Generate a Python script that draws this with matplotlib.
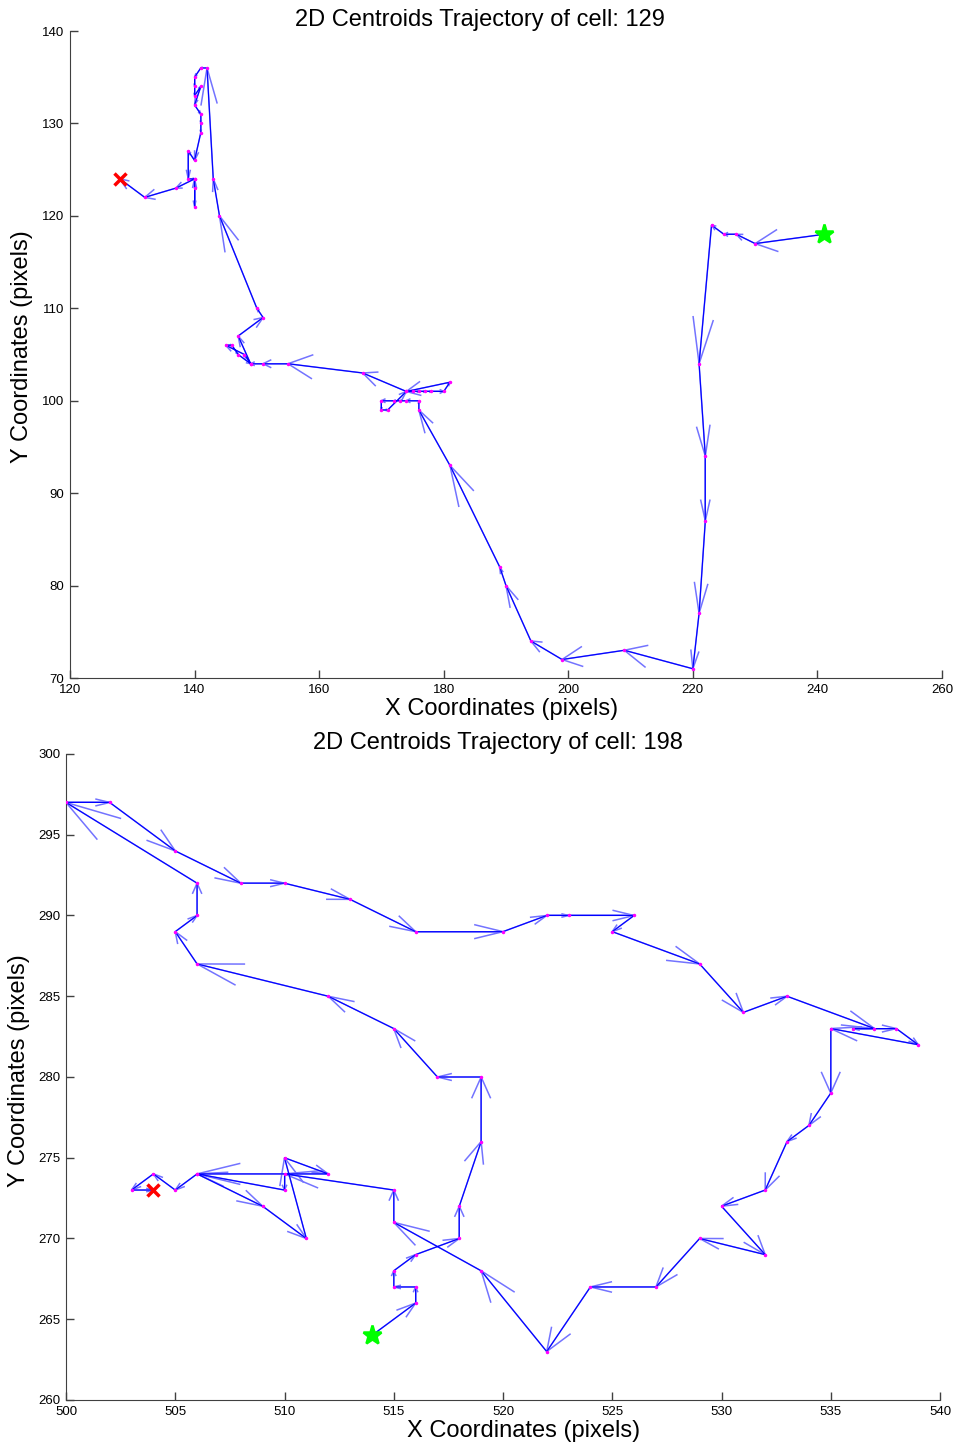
import matplotlib
matplotlib.use("Agg")
import matplotlib.pyplot as plt
import numpy as np
from matplotlib.collections import LineCollection

plt.rcParams['font.family'] = ['Liberation Sans', 'DejaVu Sans']

# ---- cell 129 trajectory (start -> end) ----
cell1_x = [241, 230, 227, 225, 223, 221, 222, 222, 221, 220, 209, 199, 194, 190, 189, 181, 176,
           176, 174, 173, 172, 170, 170, 171, 174, 175, 176, 177, 178, 180, 181, 174, 167, 155,
           151, 149, 148, 145, 146, 147, 149, 147, 151, 150, 144, 143, 142, 141, 140, 140, 140,
           141, 140, 141, 141, 141, 140, 139, 139, 140, 140, 140, 140, 137, 132, 128]
cell1_y = [118, 117, 118, 118, 119, 104, 94, 87, 77, 71, 73, 72, 74, 80, 82, 93, 99,
           100, 100, 100, 100, 100, 99, 99, 101, 101, 101, 101, 101, 101, 102, 101, 103, 104,
           104, 104, 105, 106, 106, 105, 104, 107, 109, 110, 120, 124, 136, 136, 135, 134, 133,
           134, 132, 131, 130, 129, 126, 127, 124, 124, 123, 121, 124, 123, 122, 124]

# ---- cell 198 trajectory (start -> end) ----
cell2_x = [514, 516, 516, 515, 515, 516, 518, 518, 519, 519, 517, 515, 512, 506, 505, 506, 506,
           500, 502, 505, 508, 510, 513, 516, 520, 522, 523, 526, 525, 529, 531, 533, 537, 536,
           538, 539, 535, 535, 534, 533, 532, 530, 532, 529, 527, 524, 522, 519, 515, 515, 510,
           510, 506, 509, 511, 510, 512, 506, 505, 504, 503, 504]
cell2_y = [264, 266, 267, 267, 268, 269, 270, 272, 276, 280, 280, 283, 285, 287, 289, 290, 292,
           297, 297, 294, 292, 292, 291, 289, 289, 290, 290, 290, 289, 287, 284, 285, 283, 283,
           283, 282, 283, 279, 277, 276, 273, 272, 269, 270, 267, 267, 263, 268, 271, 273, 274,
           273, 274, 272, 270, 275, 274, 274, 273, 274, 273, 273]

titles = ["2D Centroids Trajectory of cell: 129", "2D Centroids Trajectory of cell: 198"]
xlims = [(120, 260), (500, 540)]
ylims = [(70, 140), (260, 300)]
xticks = [np.arange(120, 261, 20), np.arange(500, 541, 5)]
yticks = [np.arange(70, 141, 10), np.arange(260, 301, 5)]

fig = plt.figure(figsize=(9.58, 14.47), dpi=100)
ax1 = fig.add_axes([70/958, 1-678/1447, (942-70)/958, (678-31)/1447])
ax2 = fig.add_axes([66/958, 1-1400/1447, (940-66)/958, (1400-754)/1447])


def draw(ax, xs, ys, title, xl, yl, xt, yt, title_pos, xlab_pos, ylab_pos):
    xs = np.asarray(xs, float)
    ys = np.asarray(ys, float)
    u = np.diff(xs)
    v = np.diff(ys)
    x0 = xs[:-1]
    y0 = ys[:-1]
    tx = x0 + u
    ty = y0 + v
    a, b = 0.33, 0.33
    h1x = tx - a * (u + b * v)
    h1y = ty - a * (v - b * u)
    h2x = tx - a * (u - b * v)
    h2y = ty - a * (v + b * u)
    segs = []
    for i in range(len(u)):
        segs.append([(x0[i], y0[i]), (tx[i], ty[i])])
        segs.append([(h1x[i], h1y[i]), (tx[i], ty[i])])
        segs.append([(h2x[i], h2y[i]), (tx[i], ty[i])])
    lc = LineCollection(segs, colors=[(0.45, 0.45, 1.0)], linewidths=1.1, zorder=2)
    ax.add_collection(lc)
    ax.plot(xs, ys, '-', color=(0, 0, 1), lw=0.8, zorder=3)
    ax.plot(xs, ys, '.', color=(1, 0, 1), ms=3, zorder=4)
    ax.plot(xs[0], ys[0], marker='*', color=(0, 1, 0), ms=14, mew=1.8, zorder=5, ls='none')
    ax.plot(xs[-1], ys[-1], marker='x', color=(1, 0, 0), ms=8, mew=2.5, zorder=5, ls='none')
    ax.set_xlim(*xl)
    ax.set_ylim(*yl)
    ax.set_xticks(xt)
    ax.set_yticks(yt)
    ax.tick_params(direction='in', length=6, width=1, labelsize=9.5, colors='#404040',
                   labelcolor='black', pad=4)
    for s in ['top', 'right']:
        ax.spines[s].set_visible(False)
    for s in ['left', 'bottom']:
        ax.spines[s].set_color('#404040')
    t = ax.set_title(title, fontsize=17)
    t.set_position(title_pos)
    t.set_verticalalignment('center')
    ax.set_xlabel("X Coordinates (pixels)", fontsize=17, va='center')
    ax.xaxis.set_label_coords(*xlab_pos)
    ax.set_ylabel("Y Coordinates (pixels)", fontsize=17, va='center')
    ax.yaxis.set_label_coords(*ylab_pos)


draw(ax1, cell1_x, cell1_y, titles[0], xlims[0], ylims[0], xticks[0], yticks[0],
     ((479.5-70)/872, (678-20)/647), ((501.5-70)/872, (678-709)/647), ((22-70)/872, (678-347)/647))
draw(ax2, cell2_x, cell2_y, titles[1], xlims[1], ylims[1], xticks[1], yticks[1],
     ((497.5-66)/874, (1400-742)/646), ((524-66)/874, (1400-1431)/646), ((19-66)/874, (1400-1071)/646))

fig.savefig("out.png", dpi=100)
